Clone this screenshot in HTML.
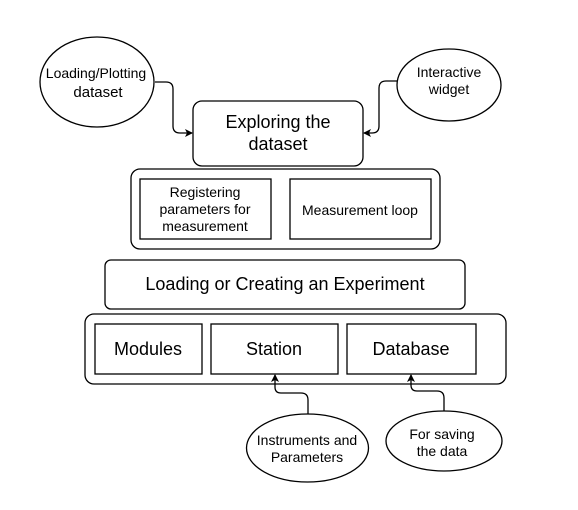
<!DOCTYPE html>
<html><head><style>body{margin:0;background:#fff}svg{display:block}text{font-family:"Liberation Sans",sans-serif;fill:#000;text-anchor:middle}</style></head>
<body>
<svg width="578" height="510" viewBox="0 0 578 510">
<defs><marker id="a" markerWidth="8" markerHeight="8" refX="7" refY="4" orient="auto" markerUnits="userSpaceOnUse"><path d="M0,0 L8,4 L0,8 L2,4z" fill="#000"/></marker></defs>
<g fill="none" stroke="#000" stroke-width="1.3">
<ellipse cx="97" cy="82" rx="57" ry="45" fill="#fff"/>
<ellipse cx="449" cy="85" rx="52" ry="36" fill="#fff"/>
<rect x="193" y="101" width="170" height="65" rx="9"/>
<path d="M155,82 H166 Q173,82 173,89 V126 Q173,133 180,133 H192" marker-end="url(#a)"/>
<path d="M397,81 H386 Q379,81 379,88 V126 Q379,133 372,133 H364" marker-end="url(#a)"/>
<rect x="131" y="169" width="309" height="80" rx="9"/>
<rect x="140" y="179" width="131" height="60"/>
<rect x="290" y="179" width="141" height="60"/>
<rect x="105" y="260" width="360" height="49" rx="6"/>
<rect x="85" y="314" width="421" height="70" rx="9"/>
<rect x="95" y="324" width="107" height="50"/>
<rect x="211" y="324" width="127" height="50"/>
<rect x="347" y="324" width="129" height="50"/>
<ellipse cx="307.5" cy="448" rx="61" ry="34"/>
<ellipse cx="444" cy="441" rx="58" ry="30"/>
<path d="M308,414 V400 Q308,393 301,393 H281 Q275,393 275,387 V375" marker-end="url(#a)"/>
<path d="M444,411 V398 Q444,391 437,391 H417 Q411,391 411,385 V375" marker-end="url(#a)"/>
</g>
<text x="96" y="78" font-size="14">Loading/Plotting</text>
<text x="98" y="97" font-size="15">dataset</text>
<text x="449" y="77" font-size="14">Interactive</text>
<text x="449" y="94" font-size="14">widget</text>
<text x="278" y="128" font-size="18">Exploring the</text>
<text x="278" y="150" font-size="18">dataset</text>
<text x="205" y="197" font-size="14">Registering</text>
<text x="205" y="214" font-size="14">parameters for</text>
<text x="205" y="231" font-size="14">measurement</text>
<text x="360" y="215" font-size="14">Measurement loop</text>
<text x="285" y="290" font-size="18">Loading or Creating an Experiment</text>
<text x="148" y="355" font-size="18">Modules</text>
<text x="274" y="355" font-size="18">Station</text>
<text x="411" y="355" font-size="18">Database</text>
<text x="307" y="445" font-size="14">Instruments and</text>
<text x="307" y="462" font-size="14">Parameters</text>
<text x="442" y="439" font-size="14">For saving</text>
<text x="442" y="456" font-size="14">the data</text>
</svg>
</body></html>
